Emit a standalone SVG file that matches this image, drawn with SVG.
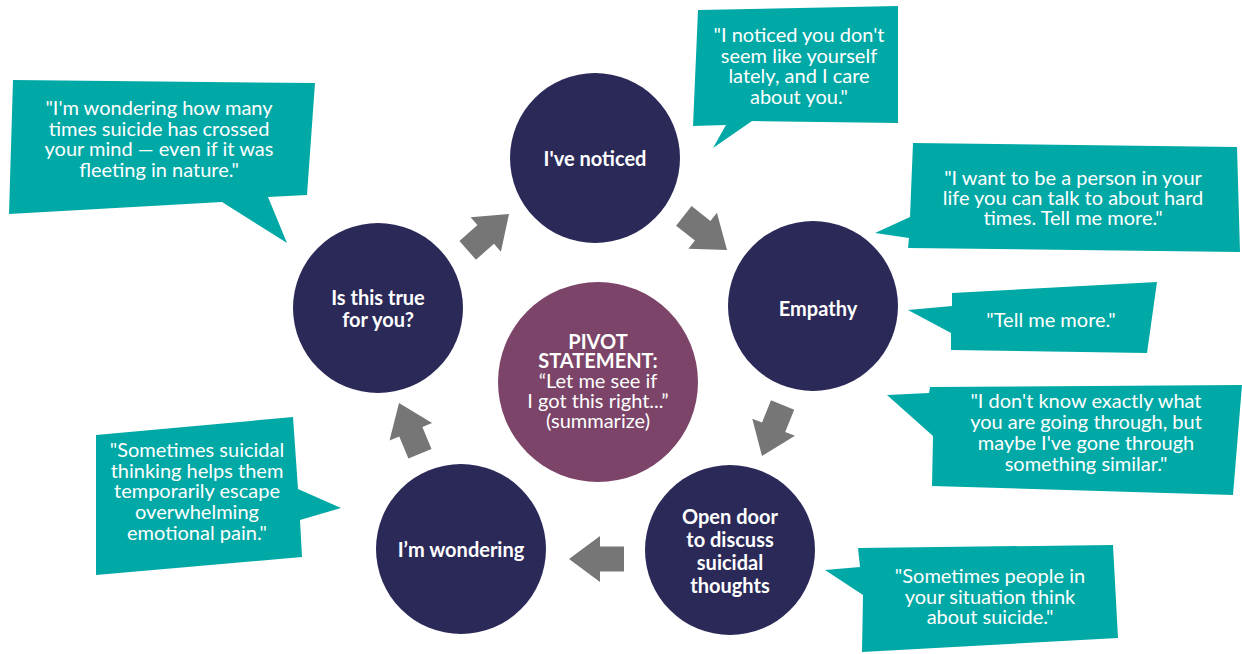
<svg xmlns="http://www.w3.org/2000/svg" xmlns:xlink="http://www.w3.org/1999/xlink" width="1242" height="654" viewBox="0 0 1242 654">
  <style>
    .step { fill: #2b2958; }
    .pivot { fill: #7b4468; }
    .bubble { fill: #00a9a6; }
    .arrow { fill: #767676; }
    .label { font-family: Lato, "Liberation Sans", sans-serif; font-weight: 700; font-size: 20px; fill: #ffffff; text-anchor: middle; }
    .quote { font-family: Lato, "Liberation Sans", sans-serif; font-size: 20px; fill: #ffffff; text-anchor: middle; }
    .pv { font-family: Lato, "Liberation Sans", sans-serif; font-size: 20px; fill: #ffffff; text-anchor: middle; }
    .pv-b { font-weight: 700; }
  </style>
  <defs>
    <!-- block arrow, tip at origin, pointing along +x -->
    <path id="arr" d="M0,0 L-31,-23 L-31,-12.5 L-55,-12.5 L-55,12.5 L-31,12.5 L-31,23 Z"/>
  </defs>

  <!-- speech bubbles -->
  <g id="bubble-wondering-how-many">
    <polygon class="bubble" points="13,80 315,83 307,195 268,197 287,243 222,202 9,214"/>
    <text class="quote" x="159" y="115">"I'm wondering how many</text>
    <text class="quote" x="159" y="136">times suicide has crossed</text>
    <text class="quote" x="159" y="156">your mind — even if it was</text>
    <text class="quote" x="159" y="177">fleeting in nature."</text>
  </g>
  <g id="bubble-noticed">
    <polygon class="bubble" points="698,10 898,6 898,123 752,121 713,148 726,125 693,126"/>
    <text class="quote" x="799" y="42">"I noticed you don't</text>
    <text class="quote" x="799" y="63">seem like yourself</text>
    <text class="quote" x="799" y="83">lately, and I care</text>
    <text class="quote" x="799" y="104">about you."</text>
  </g>
  <g id="bubble-person">
    <polygon class="bubble" points="913,143 1237,147 1240,252 908,248 909,238 875,233 910,217"/>
    <text class="quote" x="1073" y="185">"I want to be a person in your</text>
    <text class="quote" x="1073" y="205">life you can talk to about hard</text>
    <text class="quote" x="1073" y="225">times. Tell me more."</text>
  </g>
  <g id="bubble-tell-more">
    <polygon class="bubble" points="952,293 1157,282 1147,353 951,350 951,333 908,310 952,306"/>
    <text class="quote" x="1051" y="327">"Tell me more."</text>
  </g>
  <g id="bubble-dont-know">
    <polygon class="bubble" points="930,387 1242,385 1233,495 932,486 933,436 887,395 929,393"/>
    <text class="quote" x="1086" y="408">"I don't know exactly what</text>
    <text class="quote" x="1086" y="429">you are going through, but</text>
    <text class="quote" x="1086" y="450">maybe I've gone through</text>
    <text class="quote" x="1086" y="471">something similar."</text>
  </g>
  <g id="bubble-people-think">
    <polygon class="bubble" points="858,548 1113,545 1118,638 862,652 863,595 825,570 860,567"/>
    <text class="quote" x="990" y="583">"Sometimes people in</text>
    <text class="quote" x="990" y="604">your situation think</text>
    <text class="quote" x="990" y="624">about suicide."</text>
  </g>
  <g id="bubble-escape">
    <polygon class="bubble" points="96,435 293,417 298,489 341,508 300,520 302,557 96,575"/>
    <text class="quote" x="197" y="457">"Sometimes suicidal</text>
    <text class="quote" x="197" y="478">thinking helps them</text>
    <text class="quote" x="197" y="498">temporarily escape</text>
    <text class="quote" x="197" y="519">overwhelming</text>
    <text class="quote" x="197" y="540">emotional pain."</text>
  </g>

  <!-- cycle connectors -->
  <g id="connectors" class="arrow">
    <use xlink:href="#arr" transform="translate(509,214) rotate(-41.3)"/>
    <use xlink:href="#arr" transform="translate(727,250) rotate(38.3)"/>
    <use xlink:href="#arr" transform="translate(762,456) rotate(112)"/>
    <use xlink:href="#arr" transform="translate(569,559) rotate(180)"/>
    <use xlink:href="#arr" transform="translate(399,403) rotate(-112.4)"/>
  </g>

  <!-- cycle steps -->
  <g id="node-noticed">
    <circle class="step" cx="595" cy="158" r="85"/>
    <text class="label" x="595" y="166">I've noticed</text>
  </g>
  <g id="node-empathy">
    <circle class="step" cx="813" cy="306" r="85"/>
    <text class="label" x="818" y="316">Empathy</text>
  </g>
  <g id="node-open-door">
    <circle class="step" cx="730" cy="550" r="85"/>
    <text class="label" x="730" y="524">Open door</text>
    <text class="label" x="730" y="547">to discuss</text>
    <text class="label" x="730" y="570">suicidal</text>
    <text class="label" x="730" y="593">thoughts</text>
  </g>
  <g id="node-wondering">
    <circle class="step" cx="461" cy="549" r="85"/>
    <text class="label" x="461" y="557">I’m wondering</text>
  </g>
  <g id="node-true-for-you">
    <circle class="step" cx="378" cy="308" r="85"/>
    <text class="label" x="378" y="305">Is this true</text>
    <text class="label" x="378" y="327">for you?</text>
  </g>

  <!-- centre -->
  <g id="node-pivot">
    <circle class="pivot" cx="598" cy="382" r="100"/>
    <text class="pv pv-b" x="598" y="349">PIVOT</text>
    <text class="pv pv-b" x="598" y="368">STATEMENT:</text>
    <text class="pv" x="598" y="388">“Let me see if</text>
    <text class="pv" x="598" y="408">I got this right...”</text>
    <text class="pv" x="598" y="428">(summarize)</text>
  </g>
</svg>
